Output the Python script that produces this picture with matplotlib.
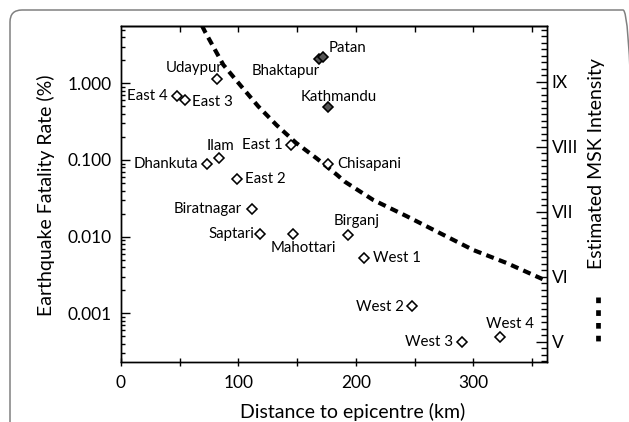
import matplotlib
matplotlib.use("Agg")
import matplotlib.pyplot as plt
from matplotlib.patches import FancyBboxPatch
from matplotlib.lines import Line2D
from matplotlib.ticker import FixedLocator, NullFormatter, LogLocator

# ---------------- data ----------------
names = ["Udaypur", "East 4", "East 3", "Ilam", "Dhankuta", "East 2", "East 1",
         "Biratnagar", "Bhaktapur", "Patan", "Kathmandu", "Chisapani", "Saptari",
         "Mahottari", "Birganj", "West 1", "West 2", "West 3", "West 4"]
distance_km = [82, 47.4, 54.8, 83.7, 73.5, 98.5, 144.5,
               111.3, 168.9, 171.7, 176.5, 176.5, 118.4,
               146.2, 193.6, 206.9, 248, 290.4, 322.7]
fatality_pct = [1.14, 0.69, 0.605, 0.106, 0.0886, 0.0565, 0.155,
                0.0227, 2.06, 2.22, 0.486, 0.0886, 0.0110,
                0.0110, 0.0105, 0.0053, 0.00124, 0.000423, 0.000486]
filled = [False, False, False, False, False, False, False,
          False, True, True, True, False, False,
          False, False, False, False, False, False]

# estimated MSK intensity curve
curve_km = [69, 71.5, 87.1, 102.8, 116.9, 132.6, 149.0, 166.6, 183.7, 190.7,
            214.8, 243.3, 271.6, 300.0, 328.4, 356.8, 362.7]
curve_msk = [9.86, 9.77, 9.26, 8.92, 8.62, 8.33, 8.06, 7.82, 7.57, 7.46,
             7.18, 6.93, 6.67, 6.41, 6.21, 5.98, 5.93]

x_major = [0, 100, 200, 300]
x_minor = [50, 150, 250, 350]
top_ticks = [50, 100, 150, 200, 250, 300, 350]
y_ticks = [0.001, 0.01, 0.1, 1.0]
y_labels = ["0.001", "0.010", "0.100", "1.000"]
msk_ticks = [5, 6, 7, 8, 9]
msk_labels = ["V", "VI", "VII", "VIII", "IX"]

# label placement: (ha, dx px, dy px)
label_pos = {
    "Udaypur": ("right", 5, 11), "East 4": ("right", -9, 0), "East 3": ("left", 7, -2),
    "Ilam": ("center", 1, 12), "Dhankuta": ("right", -9, 0), "East 2": ("left", 8, 0),
    "East 1": ("right", -8, 0), "Biratnagar": ("right", -10, 0),
    "Bhaktapur": ("right", 0, -11.5), "Patan": ("left", 6, 8.5),
    "Kathmandu": ("center", 10, 10.5), "Chisapani": ("left", 9, 0),
    "Saptari": ("right", -6, 0), "Mahottari": ("center", 11, -14),
    "Birganj": ("center", 8, 14), "West 1": ("left", 9, 0), "West 2": ("right", -8, -1),
    "West 3": ("right", -9, 0), "West 4": ("center", 9.5, 13),
}

# ---------------- figure ----------------
plt.rcParams['font.family'] = ['Lato', 'DejaVu Sans']
W, H = 629, 422
fig = plt.figure(figsize=(W / 100, H / 100), dpi=100)

# rounded frame
frame = FancyBboxPatch((0.10, -0.6), 6.25, 4.72,
                       boxstyle="round,pad=0,rounding_size=0.12",
                       transform=fig.dpi_scale_trans, facecolor="none",
                       edgecolor="#808080", linewidth=1.1, zorder=0)
fig.patches.append(frame)

L, R, T, B = 121, 547, 26, 362.3
ax = fig.add_axes([L / W, 1 - B / H, (R - L) / W, (B - T) / H])
ax.set_yscale("log")
ax.set_xlim(0, 362.7)
ax.set_ylim(2.30e-4, 5.59)

for s in ax.spines.values():
    s.set_linewidth(1.0)

ax.xaxis.set_major_locator(FixedLocator(x_major))
ax.xaxis.set_minor_locator(FixedLocator(x_minor))
ax.xaxis.set_minor_formatter(NullFormatter())
ax.set_xticklabels([str(v) for v in x_major])
ax.tick_params(axis="x", which="both", direction="inout", length=5.8, width=1.0,
               labelsize=12.5, pad=6.5, top=False)

ax.yaxis.set_major_locator(FixedLocator(y_ticks))
ax.set_yticklabels(y_labels)
ax.yaxis.set_minor_locator(LogLocator(base=10, subs=range(2, 10)))
ax.yaxis.set_minor_formatter(NullFormatter())
ax.tick_params(axis="y", which="major", direction="in", length=6.5, width=1.0,
               labelsize=12.5, pad=6.7, right=False)
ax.tick_params(axis="y", which="minor", direction="in", length=3.2, width=1.0,
               right=False)

# top ticks
axt = ax.secondary_xaxis("top")
axt.set_xticks(top_ticks)
axt.set_xticklabels([])
axt.tick_params(direction="in", length=4.3, width=1.0)
axt.spines["top"].set_linewidth(1.0)

# right MSK axis
ax2 = ax.twinx()
ax2.set_ylim(4.683, 9.857)
ax2.set_yticks(msk_ticks)
ax2.set_yticklabels(msk_labels)
ax2.yaxis.set_minor_locator(FixedLocator([v / 10 for v in range(47, 99)]))
ax2.tick_params(axis="y", which="major", direction="in", length=8, width=1.0,
                labelsize=12.5, pad=3.4)
ax2.tick_params(axis="y", which="minor", direction="in", length=4.3, width=1.0)
for s in ax2.spines.values():
    s.set_linewidth(1.0)

# intensity curve
ax2.plot(curve_km, curve_msk, color="black", lw=3.0, linestyle=(0, (1.9, 1.3)),
         dash_capstyle="butt", clip_on=True, zorder=2)

# points
ax.set_zorder(ax2.get_zorder() + 1)
ax.patch.set_visible(False)
for n, x, y, f in zip(names, distance_km, fatality_pct, filled):
    ax.plot([x], [y], marker="D", ms=4.6, mew=1.15, mec="black",
            mfc="#555555" if f else "white", linestyle="none", zorder=3)
    ha, dx, dy = label_pos[n]
    ax.annotate(n, (x, y), xytext=(dx, dy), textcoords="offset pixels",
                ha=ha, va="center", fontsize=10.8, zorder=4)

# axis labels
fig.text(46 / W, 1 - 195 / H, "Earthquake Fatality Rate (%)", rotation=90,
         ha="center", va="center", fontsize=14)
fig.text(353 / W, 1 - 412 / H, "Distance to epicentre (km)",
         ha="center", va="center", fontsize=14)
fig.text(596.5 / W, 1 - 163.5 / H, "Estimated MSK Intensity", rotation=90,
         ha="center", va="center", fontsize=14)

# legend dash
fig.lines.append(Line2D([598 / W, 598 / W], [1 - 297 / H, 1 - 343 / H],
                        transform=fig.transFigure, color="black", lw=3.4,
                        linestyle=(0, (1.2, 1.5)), dash_capstyle="butt"))

fig.savefig("out.png", dpi=100)
